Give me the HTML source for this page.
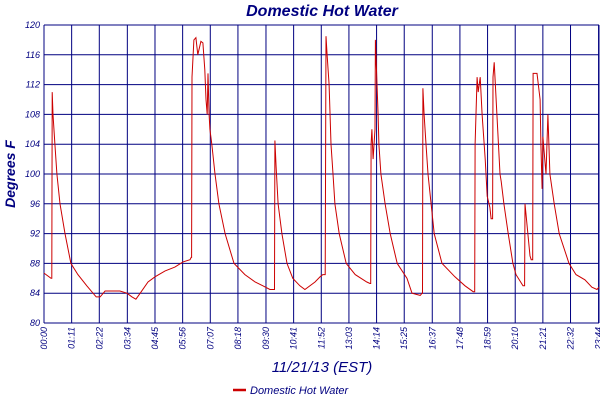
<!DOCTYPE html>
<html><head><meta charset="utf-8"><style>
body{margin:0;background:#fff;}
svg{display:block;font-family:"Liberation Sans",sans-serif;}
</style></head><body>
<svg id="chart" width="600" height="400">
<text x="322" y="16" text-anchor="middle" font-size="16" font-weight="bold" font-style="italic" fill="#000080">Domestic Hot Water</text>
<text transform="translate(15,174) rotate(-90)" text-anchor="middle" font-size="14" font-weight="bold" font-style="italic" fill="#000080">Degrees F</text>
<text x="322" y="372" text-anchor="middle" font-size="15" font-style="italic" fill="#000080">11/21/13 (EST)</text>
<g id="grid"></g>
<g id="yticks"></g>
<g id="xticks"></g>
<path id="series" fill="none" stroke="#cc0000" stroke-width="1"/>
<g>
<line x1="233" y1="390" x2="246" y2="390" stroke="#cc0000" stroke-width="2.5"/>
<text x="250" y="394" font-size="11" font-style="italic" fill="#000080">Domestic Hot Water</text>
</g>
</svg>
<script>
const yTicks=[80,84,88,92,96,100,104,108,112,116,120];
const xTickMinutes=[0,71,142,214,285,356,427,498,570,641,712,783,854,925,997,1068,1139,1210,1281,1352,1424];
const xTickLabels=["00:00","01:11","02:22","03:34","04:45","05:56","07:07","08:18","09:30","10:41","11:52","13:03","14:14","15:25","16:37","17:48","18:59","20:10","21:21","22:32","23:44"];
const times=[0,18,20,21,23,28,33,41,54,69,87,110,134,144,157,195,213,226,236,247,267,285,311,336,357,375,378,379,380,385,390,395,403,408,413,416,419,421,424,426,431,439,449,465,488,516,542,562,580,591,592,593,596,601,611,624,639,657,670,696,709,716,722,724,727,732,737,742,747,758,776,799,829,837,839,840,842,845,850,851,858,860,865,876,889,907,932,945,966,971,972,973,976,981,986,994,1002,1022,1055,1081,1102,1106,1107,1112,1115,1120,1125,1133,1138,1145,1148,1152,1153,1156,1163,1171,1174,1181,1192,1204,1212,1230,1234,1235,1248,1251,1255,1256,1266,1274,1276,1279,1281,1289,1294,1299,1310,1323,1348,1366,1389,1407,1420,1425];
const temps=[86.7,86,86,111,108,104,100,96,92,88,86.5,85,83.5,83.5,84.3,84.3,84,83.5,83.2,84,85.5,86.2,87,87.5,88.2,88.5,88.8,88.8,113,118,118.3,116,117.8,117.6,114,110,108,113.5,108,106,104,100,96,92,88,86.5,85.5,85,84.5,84.5,84.5,104.5,101,96,92,88,86,85,84.5,85.5,86.2,86.5,86.5,118.5,116,112,104,100,96,92,88,86.5,85.5,85.3,85.3,104,106,102,106,118,108,104,100,96,92,88,86,84,83.7,84,84,111.5,108,104,100,96,92,88,86.2,85,84.2,84.2,104,113,111,113,108,102,97,95.5,94,94,113,115,108,100,99,96,92,88,86.5,85,85,96,89,88.5,88.5,113.5,113.5,110,104,98,105,100,108,100,96,92,88,86.5,85.8,84.8,84.5,84.8];
const L=44,R=599,T=25,B=323;
const xS=m=>L+m*27.65/71;
const yS=v=>B-(v-80)*(B-T)/40;
const NS="http://www.w3.org/2000/svg";
const grid=document.getElementById('grid'),yt=document.getElementById('yticks'),xt=document.getElementById('xticks');
function mk(tag,attrs,parent){const e=document.createElementNS(NS,tag);for(const k in attrs)e.setAttribute(k,attrs[k]);parent.appendChild(e);return e;}
yTicks.forEach(v=>{
 const l=mk('line',{x1:L,x2:R,y1:yS(v),y2:yS(v),stroke:'#000080','stroke-width':1},grid);
 
 
 const t=mk('text',{x:L-4,y:yS(v)+3,'text-anchor':'end','font-size':9,'font-style':'italic',fill:'#000080'},yt);
 t.textContent=v;
 
 
});
xTickMinutes.forEach((m,i)=>{
 const x=xS(m);
 const l=mk('line',{x1:x,x2:x,y1:T,y2:B,stroke:'#000080','stroke-width':1},grid);
 
 
 const t=mk('text',{transform:`translate(${x+3},${B+4}) rotate(-90)`,'text-anchor':'end','font-size':9,'font-style':'italic',fill:'#000080'},xt);
 t.textContent=xTickLabels[i];
 
 
});
mk('line',{x1:R,x2:R,y1:T,y2:B,stroke:'#000080','stroke-width':1},grid);
document.getElementById('series').setAttribute('d',times.map((m,i)=>(i?'L':'M')+xS(m).toFixed(1)+','+yS(temps[i]).toFixed(1)).join(''));
</script>
</body></html>
